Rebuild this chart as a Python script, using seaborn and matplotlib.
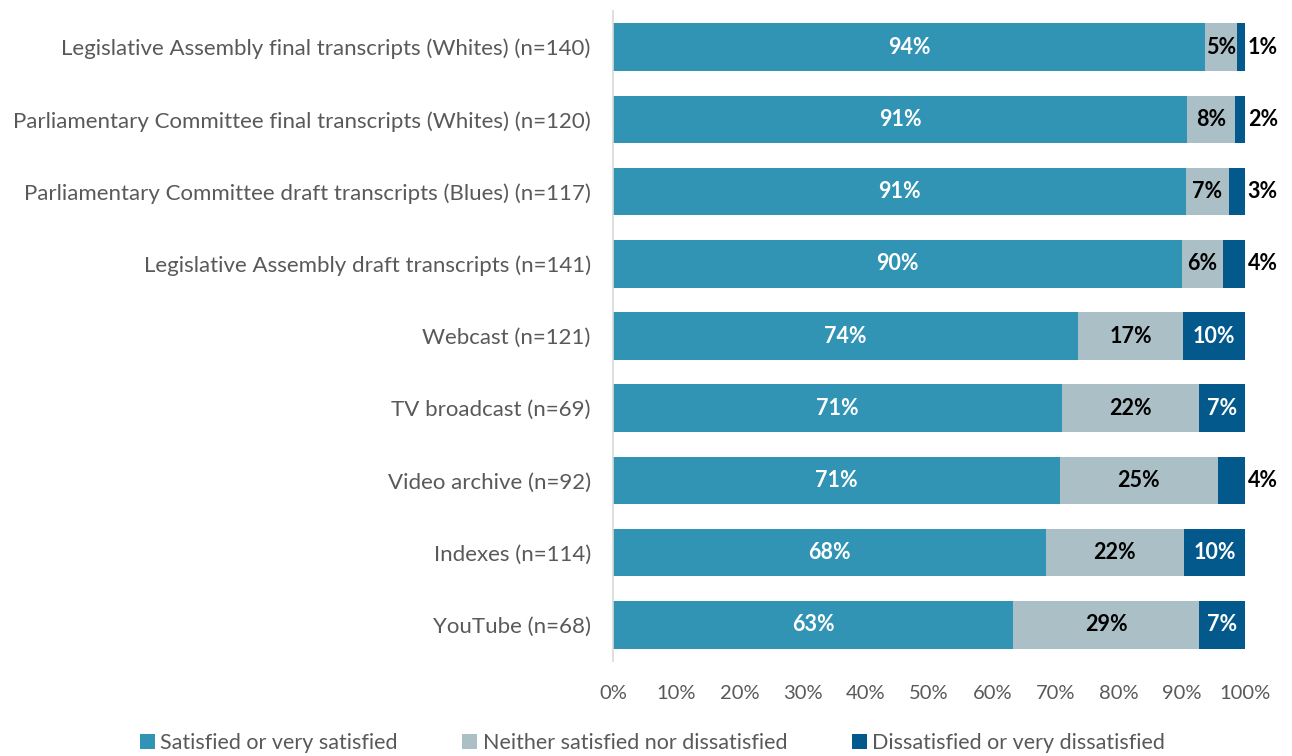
import matplotlib
matplotlib.use("Agg")
import matplotlib.pyplot as plt
from matplotlib.patches import Patch
import seaborn as sns
import pandas as pd
import numpy as np

categories = [
    "Legislative Assembly final transcripts (Whites) (n=140)",
    "Parliamentary Committee final transcripts (Whites) (n=120)",
    "Parliamentary Committee draft transcripts (Blues) (n=117)",
    "Legislative Assembly draft transcripts (n=141)",
    "Webcast (n=121)",
    "TV broadcast (n=69)",
    "Video archive (n=92)",
    "Indexes (n=114)",
    "YouTube (n=68)",
]
satisfied = [93.7, 90.8, 90.7, 90.0, 73.6, 71.0, 70.7, 68.5, 63.3]
neutral = [5.0, 7.6, 6.7, 6.5, 16.6, 21.7, 25.0, 21.8, 29.4]
dissatisfied = [1.3, 1.6, 2.6, 3.5, 9.8, 7.3, 4.3, 9.7, 7.3]
series_names = [
    "Satisfied or very satisfied",
    "Neither satisfied nor dissatisfied",
    "Dissatisfied or very dissatisfied",
]
tick_values = list(range(0, 101, 10))
tick_labels = [f"{v}%" for v in tick_values]

colors = ["#3194B4", "#ABBFC6", "#03598C"]

sns.set_theme(style="white")
plt.rcParams["font.family"] = ["Lato", "DejaVu Sans"]

df = pd.DataFrame({
    "category": categories,
    "satisfied": satisfied,
    "neutral": neutral,
    "dissatisfied": dissatisfied,
})
df["end_sat"] = df["satisfied"]
df["end_neu"] = df["satisfied"] + df["neutral"]
df["end_dis"] = df["end_neu"] + df["dissatisfied"]

fig = plt.figure(figsize=(12.92, 7.56), dpi=100)
ax = fig.add_axes([0.4745, 0.1257, 0.4892, 0.8597])

# stacked bars: draw cumulative ends from the outermost segment inward
for col, c in zip(["end_dis", "end_neu", "end_sat"], colors[::-1]):
    sns.barplot(data=df, x=col, y="category", color=c, orient="h",
                width=0.66, ax=ax, saturation=1, linewidth=0)

ax.set_xlim(0, 100)
ax.set_ylim(len(categories) - 0.5, -0.5)
ax.set_xticks(tick_values)
ax.set_xticklabels(tick_labels)
ax.set_xlabel("")
ax.set_ylabel("")
ax.tick_params(axis="x", labelsize=14.5, labelcolor="#595959", length=0, pad=17)
ax.tick_params(axis="y", labelsize=16, labelcolor="#595959", length=0, pad=16)
for s in ["top", "right", "bottom"]:
    ax.spines[s].set_visible(False)
ax.spines["left"].set_color("#D9D9D9")
ax.spines["left"].set_linewidth(1.2)

fs = 15.5
for i in range(len(categories)):
    s, n, d = satisfied[i], neutral[i], dissatisfied[i]
    ax.text(s / 2, i, f"{round(s)}%", ha="center", va="center",
            color="white", fontsize=fs, fontweight="bold")
    ax.text(s + n / 2, i, f"{round(n)}%", ha="center", va="center",
            color="black", fontsize=fs, fontweight="bold")
    if d >= 5:
        ax.text(s + n + d / 2, i, f"{round(d)}%", ha="center", va="center",
                color="white", fontsize=fs, fontweight="bold")
    else:
        ax.text(s + n + d + 0.4, i, f"{round(d)}%", ha="left", va="center",
                color="black", fontsize=fs, fontweight="bold")

handles = [Patch(facecolor=c, edgecolor="none", label=l)
           for c, l in zip(colors, series_names)]
fig.legend(handles=handles, loc="lower center", ncol=3, frameon=False,
           bbox_to_anchor=(0.505, -0.022), fontsize=15.5, handlelength=0.7,
           handleheight=0.7, handletextpad=0.25, columnspacing=3.0,
           labelcolor="#595959")

fig.savefig("out.png", dpi=100)
